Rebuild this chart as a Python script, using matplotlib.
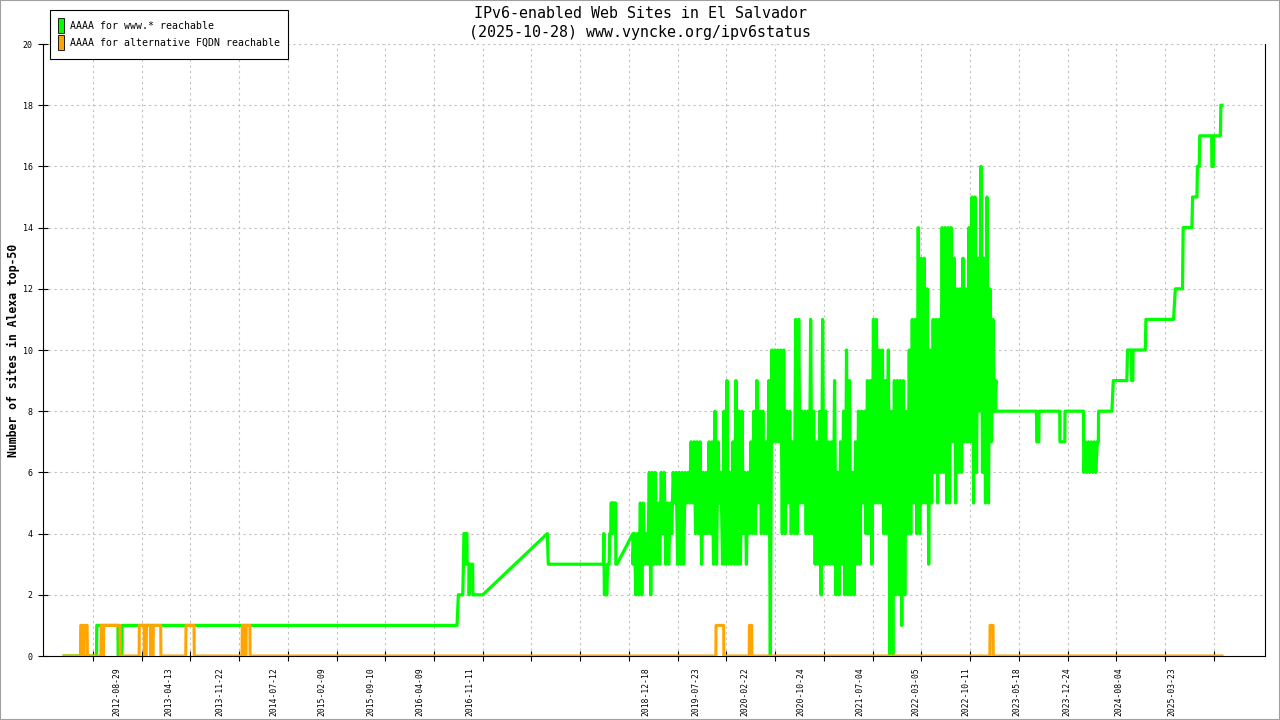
import matplotlib
matplotlib.use("Agg")
import matplotlib.pyplot as plt
from matplotlib.patches import Patch, Rectangle
import pandas as pd

# --- data ---
# www.* reachable, before the noisy period
green_a_dates = ["2012-01-13", "2012-06-02", "2012-06-03", "2012-09-03", "2012-09-04", "2012-09-20",
                 "2012-09-21", "2016-09-17", "2016-09-23", "2016-10-12", "2016-10-15", "2016-10-17",
                 "2016-10-22", "2016-10-23", "2016-10-25", "2016-10-30", "2016-10-31", "2016-11-08",
                 "2016-11-09", "2016-11-11", "2016-11-24", "2016-11-25", "2017-01-07", "2017-10-15",
                 "2017-10-19", "2018-06-16", "2018-06-18", "2018-06-20", "2018-07-01", "2018-07-04",
                 "2018-07-11", "2018-07-13", "2018-07-18", "2018-07-19", "2018-07-25", "2018-07-26",
                 "2018-07-28", "2018-08-08", "2018-08-09", "2018-08-14", "2018-10-22"]
green_a_vals = [0, 0, 1, 1, 0, 0,
                1, 1, 2, 2, 3, 4,
                4, 3, 4, 4, 3, 3,
                2, 3, 3, 2, 2, 4,
                3, 3, 4, 2, 2, 3,
                3, 4, 4, 5, 5, 4,
                5, 5, 3, 3, 4]

# noisy period 2018-10 .. 2023-02: min / max per 13-day bin
noise_start = "2018-10-22"
noise_step = 13
noise_lo = [3, 2, 2, 2, 3, 3, 2, 3, 3, 3, 4, 3, 3, 4, 5, 3, 3, 3, 5, 5,
            5, 4, 4, 3, 4, 4, 4, 3, 3, 5, 3, 3, 3, 3, 3, 3, 3, 4, 3, 4,
            4, 4, 5, 4, 4, 4, 0, 7, 7, 7, 4, 4, 5, 4, 4, 4, 5, 5, 4, 4,
            4, 3, 3, 2, 3, 3, 3, 3, 2, 2, 3, 2, 2, 2, 2, 3, 3, 5, 4, 4,
            3, 5, 5, 5, 4, 4, 0, 0, 2, 2, 1, 2, 4, 4, 5, 4, 4, 5, 5, 3,
            5, 6, 5, 6, 6, 5, 5, 7, 5, 6, 6, 7, 7, 7, 5, 6, 8, 6, 5, 5,
            7, 8]
noise_hi = [4, 4, 5, 5, 4, 6, 6, 6, 5, 6, 6, 5, 5, 6, 6, 6, 6, 6, 6, 7,
            7, 7, 7, 6, 6, 7, 7, 8, 7, 6, 8, 9, 6, 7, 9, 8, 8, 6, 6, 7,
            8, 9, 8, 8, 7, 9, 10, 10, 10, 10, 10, 8, 8, 7, 11, 11, 8, 8, 8, 11,
            8, 7, 8, 11, 8, 7, 7, 9, 6, 7, 8, 10, 9, 6, 7, 8, 8, 8, 9, 9,
            11, 11, 10, 10, 9, 10, 8, 9, 9, 9, 9, 8, 10, 11, 11, 14, 13, 13, 12, 10,
            11, 11, 11, 14, 14, 14, 14, 13, 12, 12, 13, 12, 14, 15, 15, 13, 16, 13, 15, 12,
            11, 9]

green_b_dates = ["2023-02-16", "2023-08-13", "2023-08-14", "2023-08-23", "2023-08-24", "2023-11-22",
                 "2023-11-23", "2023-12-14", "2023-12-15", "2024-03-04", "2024-03-05"]
green_b_vals = [8, 8, 7, 7, 8, 8,
                7, 7, 8, 8, 7]

dip_start = "2024-03-06"
dip_step = 13
dip_lo = [6, 6, 6, 6, 6]
dip_hi = [7, 7, 7, 7, 7]

green_c_dates = ["2024-05-08", "2024-05-09", "2024-07-06", "2024-07-12", "2024-09-09", "2024-09-12",
                 "2024-09-29", "2024-09-30", "2024-10-05", "2024-10-06", "2024-11-28", "2024-12-01",
                 "2025-03-31", "2025-04-08", "2025-05-09", "2025-05-12", "2025-06-19", "2025-06-22",
                 "2025-07-11", "2025-07-13", "2025-07-21", "2025-07-23", "2025-09-13", "2025-09-14",
                 "2025-09-20", "2025-09-21", "2025-10-21", "2025-10-23", "2025-10-28"]
green_c_vals = [7, 8, 8, 9, 9, 10,
                10, 9, 9, 10, 10, 11,
                11, 12, 12, 14, 14, 15,
                15, 16, 16, 17, 17, 16,
                16, 17, 17, 18, 18]

# alternative FQDN reachable
orange_dates = ["2012-01-13", "2012-03-24", "2012-03-25", "2012-04-03", "2012-04-04", "2012-04-08",
                "2012-04-09", "2012-04-22", "2012-04-23", "2012-06-21", "2012-06-22", "2012-06-27",
                "2012-06-28", "2012-07-02", "2012-07-03", "2012-09-12", "2012-09-13", "2012-12-04",
                "2012-12-05", "2012-12-26", "2012-12-27", "2013-01-04", "2013-01-05", "2013-01-22",
                "2013-01-23", "2013-02-03", "2013-02-04", "2013-03-08", "2013-03-09", "2013-06-25",
                "2013-06-26", "2013-07-31", "2013-08-01", "2014-02-25", "2014-02-26", "2014-03-09",
                "2014-03-10", "2014-03-14", "2014-03-15", "2014-03-31", "2014-04-01", "2019-10-18",
                "2019-10-19", "2019-11-21", "2019-11-22", "2020-03-11", "2020-03-12", "2020-03-22",
                "2020-03-23", "2023-01-22", "2023-01-23", "2023-02-05", "2023-02-06", "2025-10-28"]
orange_vals = [0, 0, 1, 1, 0, 0,
               1, 1, 0, 0, 1, 1,
               0, 0, 1, 1, 0, 0,
               1, 1, 0, 0, 1, 1,
               0, 0, 1, 1, 0, 0,
               1, 1, 0, 0, 1, 1,
               0, 0, 1, 1, 0, 0,
               1, 1, 0, 0, 1, 1,
               0, 0, 1, 1, 0, 0]

label_dates = ["2012-08-29", "2013-04-13", "2013-11-22", "2014-07-12", "2015-02-09", "2015-09-10",
               "2016-04-09", "2016-11-11", "2018-12-18", "2019-07-23", "2020-02-22", "2020-10-24",
               "2021-07-04", "2022-03-05", "2022-10-11", "2023-05-18", "2023-12-24", "2024-08-04",
               "2025-03-23"]

GREEN = "#00ff00"
ORANGE = "#ffa500"
MONO = "DejaVu Sans Mono"


def band(start, step, lo, hi):
    # zigzag between the low and high value of each bin
    d0 = pd.Timestamp(start)
    xs, ys = [], []
    for k, (a, b) in enumerate(zip(lo, hi)):
        d = d0 + pd.Timedelta(days=step * k)
        xs += [d, d + pd.Timedelta(days=step / 2)]
        ys += [a, b]
    return xs, ys


nx, ny = band(noise_start, noise_step, noise_lo, noise_hi)
dx, dy = band(dip_start, dip_step, dip_lo, dip_hi)
gx = list(pd.to_datetime(green_a_dates)) + nx + list(pd.to_datetime(green_b_dates)) + dx + list(pd.to_datetime(green_c_dates))
gy = green_a_vals + ny + green_b_vals + dy + green_c_vals

fig = plt.figure(figsize=(12.8, 7.2), dpi=100)
ax = fig.add_axes([43 / 1280, 64 / 720, 1222 / 1280, 612 / 720])

ax.plot(gx, gy, color=GREEN, lw=2.3, zorder=3)
ax.plot(pd.to_datetime(orange_dates), orange_vals, color=ORANGE, lw=2.2, zorder=4)

ax.set_xlim(pd.Timestamp("2011-10-13"), pd.Timestamp("2026-05-03"))
ax.set_ylim(0, 20)
ax.set_yticks(range(0, 21, 2))

grid_ticks = pd.date_range("2012-05-17", periods=24, freq="212D")
ax.set_xticks(grid_ticks, labels=[""] * len(grid_ticks))
ax.set_xticks(pd.to_datetime(label_dates), labels=label_dates, minor=True)
ax.tick_params(axis="x", which="major", direction="inout", length=6.5, width=0.8)
ax.tick_params(axis="x", which="minor", length=0, pad=8, labelsize=5.8, labelrotation=90)
ax.tick_params(axis="y", direction="inout", length=7, width=0.8, labelsize=6, pad=4)
for t in ax.get_xticklabels(minor=True) + ax.get_yticklabels():
    t.set_family(MONO)

ax.grid(True, which="major", color="#c0c0c0", linestyle=(0, (2, 3)), lw=0.8)
ax.set_axisbelow(True)
ax.spines["top"].set_visible(False)
for s in ("left", "bottom", "right"):
    ax.spines[s].set_linewidth(0.8)

handles = [Patch(facecolor=GREEN, edgecolor="black", lw=0.6),
           Patch(facecolor=ORANGE, edgecolor="black", lw=0.6)]
leg = ax.legend(handles, ["AAAA for www.* reachable", "AAAA for alternative FQDN reachable"],
                loc="upper left", bbox_to_anchor=(50 / 1280, 1 - 10 / 720), bbox_transform=fig.transFigure,
                borderaxespad=0, fancybox=False, framealpha=1, edgecolor="black",
                prop={"family": MONO, "size": 7.1}, handlelength=0.62, handleheight=1.96,
                handletextpad=0.55, borderpad=0.85, labelspacing=0.2)
leg.get_frame().set_linewidth(0.8)

fig.text(0.5, 1 - 13 / 720, "IPv6-enabled Web Sites in El Salvador", ha="center", va="center",
         family=MONO, fontsize=10.8)
fig.text(0.5, 1 - 32 / 720, "(2025-10-28) www.vyncke.org/ipv6status", ha="center", va="center",
         family=MONO, fontsize=10.8)
fig.text(13 / 1280, 1 - 350 / 720, "Number of sites in Alexa top-50", rotation=90, ha="center", va="center",
         family=MONO, fontsize=8.3, fontweight="bold")

fig.patches.append(Rectangle((0, 0), 1, 1, transform=fig.transFigure, fill=False,
                             edgecolor="#a0a0a0", lw=1.5))

fig.savefig("out.png", dpi=100)
